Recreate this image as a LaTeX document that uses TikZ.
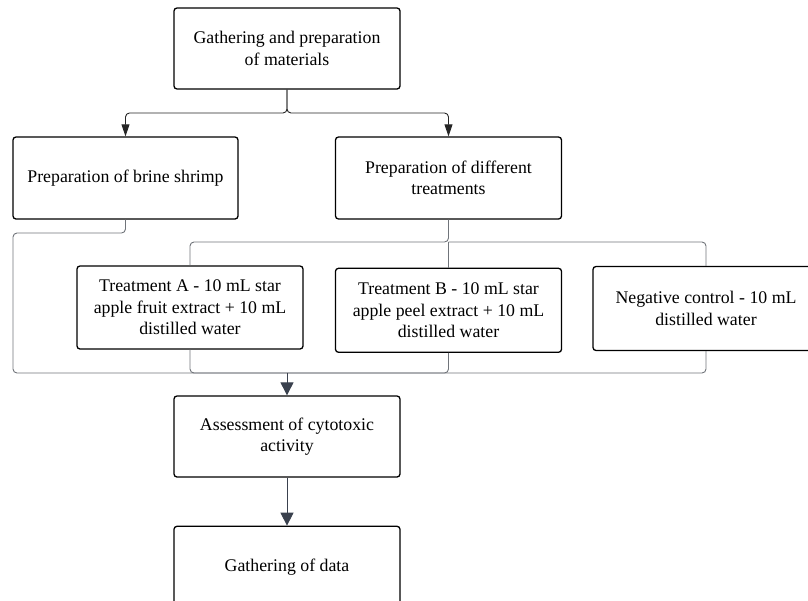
\documentclass[tikz,border=0pt]{standalone}
\usepackage{fontspec}
\setmainfont{Liberation Serif}
\usetikzlibrary{positioning}
\usetikzlibrary{arrows.meta}
\usetikzlibrary{shapes}
\definecolor{linkgray}{RGB}{112,116,122}
\definecolor{tipslate}{RGB}{58,65,78}
\tikzset{
        stepnode/.style={align=center,inner sep=0pt,font=\fontsize{17.8}{21.4}\selectfont},
        % Process boxes
        node_step/.style={stepnode, rectangle, rounded corners=3pt, draw=black, line width=1.3pt, fill=white, minimum width=226pt, minimum height=82pt},
        % Links out of the first box
        link_top/.style={-{Triangle[length=12pt,width=8pt]}, draw=black!85, line width=0.9pt, rounded corners=4pt},
        % Links further down
        link_low/.style={draw=linkgray, line width=0.9pt, rounded corners=4pt},
        % Arrows into a box
        link_arrow/.style={-{Triangle[length=13pt,width=13pt]}, draw=tipslate, line width=0.9pt}
}

\begin{document}
\begin{tikzpicture}[x=1pt, y=1pt]
            \useasboundingbox (0,0) rectangle (808,-600);
            \node[node_step, minimum height=81pt] (gather) at (287,-48.5) {Gathering and preparation\\of materials};
            \node[node_step, minimum width=225pt] (shrimp) at (125.5,-178) {Preparation of brine shrimp};
            \node[node_step] (treat) at (448.5,-178) {Preparation of different\\treatments};
            \node[node_step, minimum height=83pt] (trA) at (190,-307.5) {Treatment A - 10 mL star\\apple fruit extract + 10 mL\\distilled water};
            \node[node_step, minimum height=84pt] (trB) [below=48pt of treat] {Treatment B - 10 mL star\\apple peel extract + 10 mL\\distilled water};
            \node[node_step, minimum height=84pt] (neg) at (706,-308.5) {Negative control - 10 mL\\distilled water};
            \node[node_step, minimum height=81pt] (assess) at (287,-436.5) {Assessment of cytotoxic\\activity};
            \node[node_step] (data) [below=48pt of assess] {Gathering of data};

            \coordinate (split_top) at (287,-113);
            \coordinate (shrimp_bend) at (125.5,-233);
            \coordinate (left_rail) at (13,-373);
            \coordinate (split_mid) at (448.5,-242);
            \coordinate (merge) at (287,-373);

            \draw[link_top] (gather.south) -- (split_top) -| (shrimp.north);
            \draw[link_top] (gather.south) -- (split_top) -| (treat.north);
            \draw[link_low] (shrimp.south) -- (shrimp_bend) -| (left_rail) -- (merge);
            \draw[link_low] (treat.south) -- (split_mid) -| (trA.north);
            \draw[link_low] (split_mid) -| (neg.north);
            \draw[link_low] (split_mid) -- (trB.north);
            \draw[link_low] (trA.south) |- (merge);
            \draw[link_low] (trB.south) |- (merge);
            \draw[link_low] (neg.south) |- (merge);
            \draw[link_arrow] (merge) -- (assess.north);
            \draw[link_arrow] (assess.south) -- (data.north);
        \end{tikzpicture}
\end{document}
